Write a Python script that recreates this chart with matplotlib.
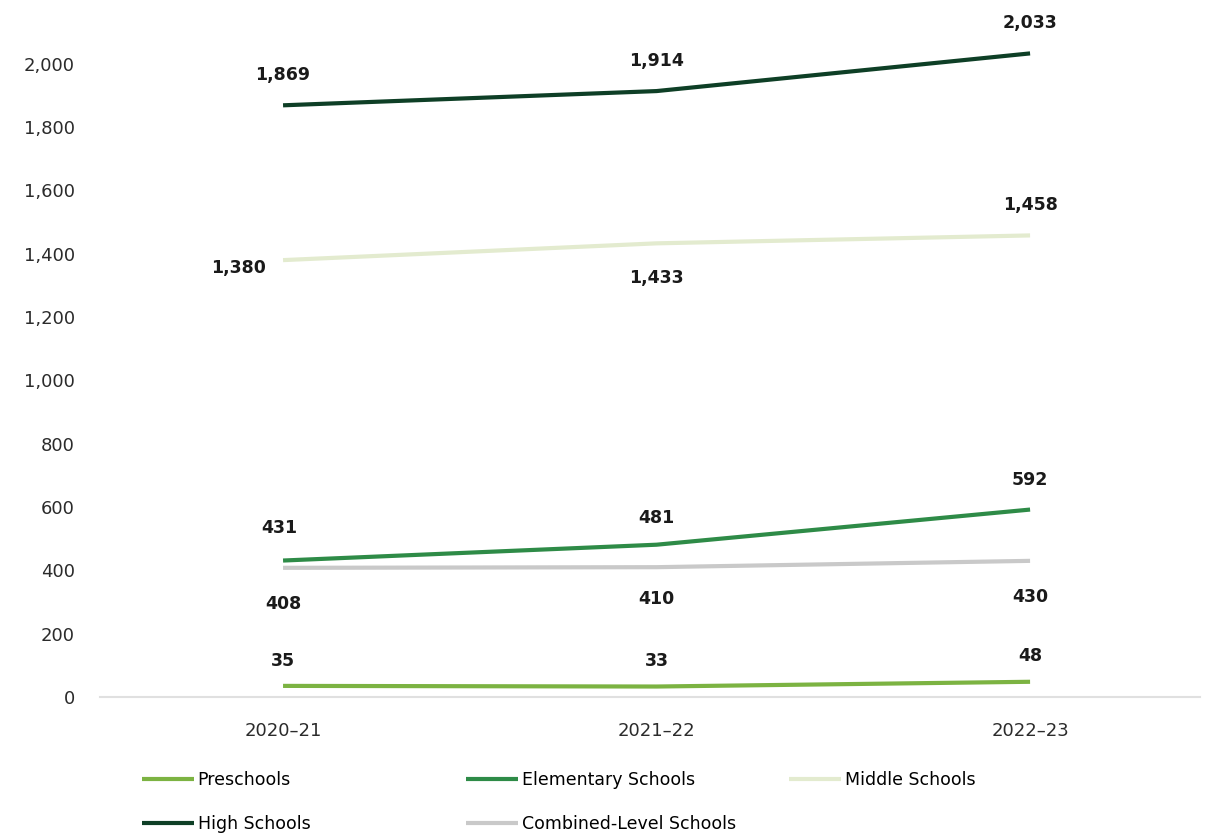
import matplotlib.pyplot as plt

plt.rcParams['font.family'] = ['DejaVu Sans']

years = ['2020–21', '2021–22', '2022–23']
preschools = [35, 33, 48]
elementary = [431, 481, 592]
middle = [1380, 1433, 1458]
high = [1869, 1914, 2033]
combined = [408, 410, 430]

series = [
    ('Preschools', preschools, '#7cb342'),
    ('Elementary Schools', elementary, '#2e8b47'),
    ('Middle Schools', middle, '#e3ebcf'),
    ('High Schools', high, '#0e3f26'),
    ('Combined-Level Schools', combined, '#c9c9c9'),
]

# label offsets in pixels (dx, dy) per series / point
offsets = {
    'Preschools': [(0, 25), (0, 26), (0, 26)],
    'Elementary Schools': [(-4, 33), (0, 27), (0, 30)],
    'Middle Schools': [(-45, -8), (0, -35), (0, 30)],
    'High Schools': [(0, 30), (0, 30), (0, 30)],
    'Combined-Level Schools': [(0, -36), (0, -32), (0, -36)],
}

fig = plt.figure(figsize=(12.08, 8.36), dpi=100)
ax = fig.add_axes([0.0828, 0.1663, 0.9106, 0.8217])

x = list(range(len(years)))
lines = {}
for name, vals, col in series:
    ln, = ax.plot(x, vals, color=col, lw=3.0, label=name, solid_capstyle='butt')
    lines[name] = ln
    for i, v in enumerate(vals):
        dx, dy = offsets[name][i]
        ax.annotate(f'{v:,}', (i, v), xytext=(dx, dy), textcoords='offset pixels',
                    ha='center', va='center', fontsize=12.5, fontweight='bold',
                    color='#1a1a1a')

ax.set_xlim(-0.49, 2.455)
ax.set_ylim(0, 2170)
ax.set_yticks(range(0, 2001, 200))
ax.set_yticklabels([f'{t:,}' for t in range(0, 2001, 200)])
ax.set_xticks(x)
ax.set_xticklabels(years)
ax.tick_params(axis='both', length=0, labelsize=13, colors='#2b2b2b')
ax.tick_params(axis='y', pad=18)
ax.tick_params(axis='x', pad=18)
for s in ['top', 'right', 'left']:
    ax.spines[s].set_visible(False)
ax.spines['bottom'].set_color('#e0e0e0')
ax.spines['bottom'].set_linewidth(1.5)

# legend: three columns placed by hand
W, H = 1208, 836
cols = [(142, ['Preschools', 'High Schools']),
        (466, ['Elementary Schools', 'Combined-Level Schools']),
        (789, ['Middle Schools'])]
for xpix, names in cols:
    leg = fig.legend([lines[n] for n in names], names, loc='upper left',
                     bbox_to_anchor=(xpix / W, 1 - 771 / H), frameon=False,
                     fontsize=12.5, handlelength=3.0, handletextpad=0.2,
                     labelspacing=1.5, borderpad=0, borderaxespad=0)

fig.savefig('out.png', dpi=100)
